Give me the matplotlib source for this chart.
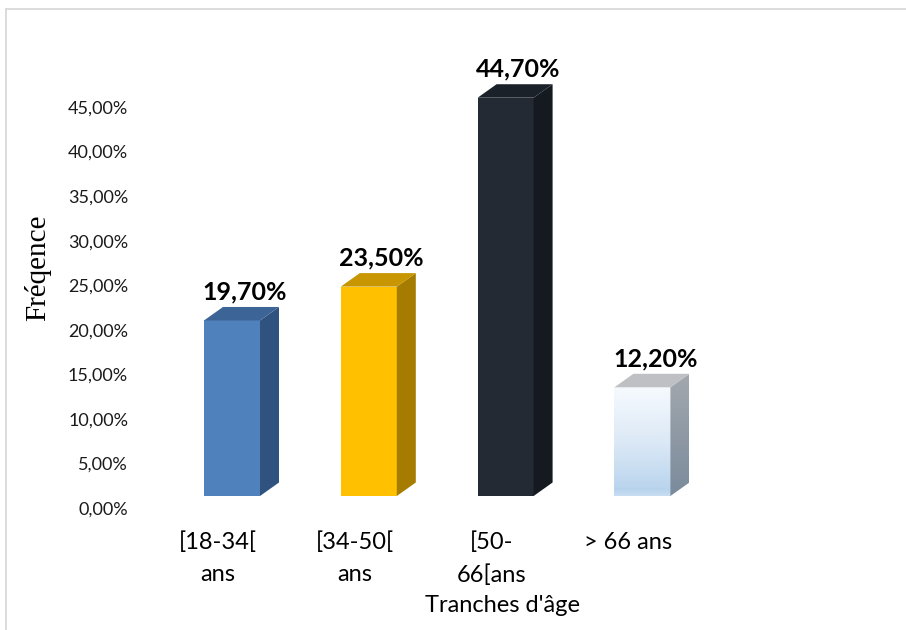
import numpy as np
import matplotlib
matplotlib.use("Agg")
import matplotlib.pyplot as plt
from matplotlib.patches import Polygon, Rectangle
from matplotlib.transforms import offset_copy
from matplotlib.ticker import FuncFormatter
from matplotlib.colors import LinearSegmentedColormap

# ---- data ----
categories = ["[18-34[\nans", "[34-50[\nans", "[50-\n66[ans", "> 66 ans"]
values = [19.7, 23.5, 44.7, 12.2]
value_labels = ["19,70%", "23,50%", "44,70%", "12,20%"]
yticks = [0, 5, 10, 15, 20, 25, 30, 35, 40, 45]

front_colors = ["#4F81BD", "#FFC000", "#232A34", None]
side_colors = ["#30527F", "#A67C00", "#151A21", None]
top_colors = ["#3C6496", "#C79600", "#1B2129", "#BEC0C3"]

W, H = 906, 630
DPI = 100
fig = plt.figure(figsize=(W / DPI, H / DPI), dpi=DPI)
fig.patch.set_facecolor("white")

# border of the chart area
fig.patches.append(Rectangle((6 / W, -0.05), 1.2, (H - 9) / H + 0.05, transform=fig.transFigure,
                             fill=False, edgecolor="#D9D9D9", linewidth=1.3))

ax_left, ax_bottom = 149.6 / W, (H - 508) / H
ax_w, ax_h = 547.2 / W, 50 * 8.91 / H
ax = fig.add_axes([ax_left, ax_bottom, ax_w, ax_h])
ax.set_xlim(-0.5, 3.5)
ax.set_ylim(0, 50)
for s in ax.spines.values():
    s.set_visible(False)
ax.patch.set_visible(False)

# pixel -> data conversion
ppx = ax.bbox.width / 4.0
ppy = ax.bbox.height / 50.0
front_w = 56 / ppx
depth_x = 19 / ppx
depth_y = 13.5 / ppy

# front faces offset from the back plane (perspective)
tr = offset_copy(ax.transData, fig=fig, x=14, y=12, units="dots")

x = np.arange(len(values))
for i, v in enumerate(values):
    xl = x[i] - front_w / 2
    xr = x[i] + front_w / 2
    side = [(xr, 0), (xr + depth_x, depth_y), (xr + depth_x, v + depth_y), (xr, v)]
    top = [(xl, v), (xr, v), (xr + depth_x, v + depth_y), (xl + depth_x, v + depth_y)]
    if front_colors[i] is not None:
        ax.add_patch(Rectangle((xl, 0), front_w, v, transform=tr, facecolor=front_colors[i],
                               edgecolor="none", zorder=3))
        ax.add_patch(Polygon(side, closed=True, transform=tr, facecolor=side_colors[i],
                             edgecolor="none", zorder=3))
    else:
        cm_front = LinearSegmentedColormap.from_list("lf", ["#F6FAFE", "#DCE9F6", "#B5D2EC"])
        g = np.linspace(0, 1, 200).reshape(-1, 1)
        g = np.concatenate([g[:185], np.linspace(1, 0.75, 15).reshape(-1, 1)])
        im = ax.imshow(g, cmap=cm_front, aspect="auto", extent=(xl, xr, 0, v), origin="upper",
                       interpolation="bilinear", zorder=3)
        im.set_transform(tr)
        cm_side = LinearSegmentedColormap.from_list("ls", ["#A3A8AE", "#7B8B9C"])
        im2 = ax.imshow(np.linspace(0, 1, 200).reshape(-1, 1), cmap=cm_side, aspect="auto",
                        extent=(xr, xr + depth_x, 0, v + depth_y), origin="upper",
                        interpolation="bilinear", zorder=3)
        im2.set_transform(tr)
        clip = Polygon(side, closed=True, transform=tr, facecolor="none", edgecolor="none")
        ax.add_patch(clip)
        im2.set_clip_path(clip)
    ax.add_patch(Polygon(top, closed=True, transform=tr, facecolor=top_colors[i],
                         edgecolor="none", zorder=3))
    ax.annotate(value_labels[i], xy=(x[i], v), xytext=(27, 33), textcoords="offset pixels",
                ha="center", va="baseline", fontsize=18, fontweight="bold",
                family="Lato", color="black", zorder=5)

ax.set_yticks(yticks)
ax.yaxis.set_major_formatter(FuncFormatter(lambda t, p: f"{t:.2f}".replace(".", ",") + "%"))
ax.tick_params(axis="y", length=0, pad=15.5, labelsize=13, labelcolor="#1a1a1a")
for lab in ax.get_yticklabels():
    lab.set_family("Lato")

ax.set_xticks(x)
ax.set_xticklabels(categories, fontsize=17, family="Lato", linespacing=1.65,
                   multialignment="center")
ax.tick_params(axis="x", length=0, pad=17)

fig.text(502 / W, 1 - 606 / H, "Tranches d'âge", ha="center", va="center", fontsize=17,
         family="Lato")
fig.text(38 / W, 1 - 268 / H, "Fréqence", ha="center", va="center", rotation=90,
         fontsize=21, family="Liberation Serif")

fig.savefig("out.png", dpi=DPI)
